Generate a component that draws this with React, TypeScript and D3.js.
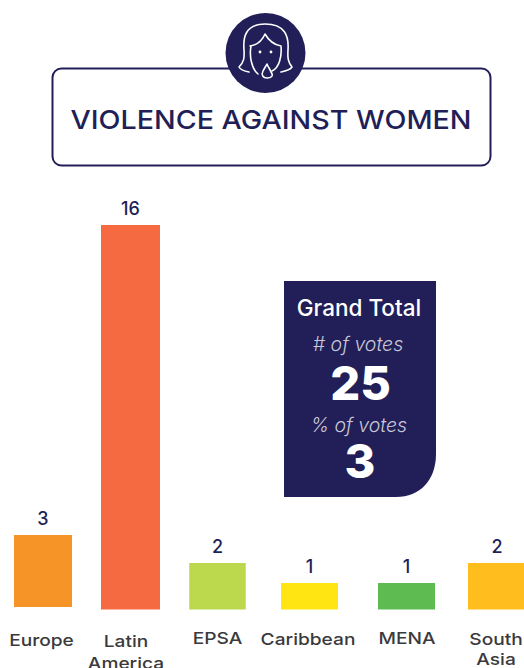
import React from "react";
import * as d3 from "d3";

const categories = ["Europe", "Latin America", "EPSA", "Caribbean", "MENA", "South Asia"];
const votes = [3, 16, 2, 1, 1, 2];
const colors = ["#F79427", "#F56A41", "#BCD84C", "#FFE512", "#5DBB52", "#FFBD1E"];
const title = "VIOLENCE AGAINST WOMEN";
const panelTitle = "Grand Total";
const votesLabel = "# of votes";
const totalVotes = "25";
const percentLabel = "% of votes";
const totalPercent = "3";

const navy = "#221F58";
const font = "Inter, 'Open Sans', sans-serif";
const W = 524, H = 668;

// bar centres sit on an irregular band in the source
const xCentre = d3.scaleOrdinal<string, number>().domain(categories).range([43, 130.5, 217.5, 309.5, 406.5, 497]);
const labelX = d3.scaleOrdinal<string, number>().domain(categories).range([41.5, 126, 217.5, 308, 407, 496]);
const labelY = d3.scaleOrdinal<string, number>().domain(categories).range([646, 647, 644, 645, 644, 645]);
const lineGap = d3.scaleOrdinal<string, number>().domain(categories).range([0, 21.5, 0, 0, 0, 19.5]);
const baseY = d3.scaleOrdinal<string, number>().domain(categories).range([607, 609.5, 609.5, 609.5, 609.5, 609.5]);
const barWidth = d3.scaleOrdinal<string, number>().domain(categories).range([58, 59, 56.5, 57, 57, 58]);
const heightScale = d3.scaleLinear().domain([0, 1, 2, 3, 16]).range([0, 26.5, 46.5, 72, 384.5]);

const panelPath = (() => {
  const p = d3.path();
  p.moveTo(284, 281);
  p.lineTo(436, 281);
  p.lineTo(436, 454);
  p.bezierCurveTo(436, 480, 420, 497, 396, 497);
  p.lineTo(284, 497);
  p.closePath();
  return p.toString();
})();

const wrap = (name: string) => name.split(" ");

export default function App() {
  return (
    <svg
      width={W}
      height={H}
      viewBox={`0 0 ${W} ${H}`}
      style={{ position: "absolute", left: 0, top: 0, background: "#fff", fontFamily: font }}
    >
      <rect x={52.5} y={68.5} width={438} height={97} rx={9} fill="#fff" stroke={navy} strokeWidth={2} />
      <text x={271} y={129} textAnchor="middle" fontSize={26} fontWeight={500} fill={navy} textLength={401} lengthAdjust="spacingAndGlyphs">
        {title}
      </text>

      {/* face icon */}
      <circle cx={265.5} cy={53} r={40} fill={navy} />
      <g fill="none" stroke="#fff" strokeWidth={1.6} strokeLinecap="round" strokeLinejoin="round">
        <path d="M249 72 C 243 71 240 69 239 67 C 244 62 244.5 58 244 50 C 243 38 245 24 265 24 C 285 24 289 36 288 50 C 287.5 58 288 62 292 67 C 290 70 286 71 281 72" />
        <path d="M250 46 C 257 45 262 41 265 34 C 269 41 275 45 281 46 C 282 57 279 68 272 71 M251 46 C 249 57 252 69 258 74" />
        <path d="M271 72 C 274 76 271 78 267 78 C 263 78 261 75 263 71 C 264 69 266 66 267 64 C 268 67 270 69 271 72 Z" />
      </g>
      <circle cx={260} cy={52} r={1.4} fill="#fff" />
      <circle cx={271} cy={52} r={1.4} fill="#fff" />

      {categories.map((c, i) => {
        const h = heightScale(votes[i]);
        const top = baseY(c) - h;
        const w = barWidth(c);
        const lines = wrap(c);
        return (
          <g key={c}>
            <rect x={xCentre(c) - w / 2} y={top} width={w} height={h} fill={colors[i]} />
            <text x={xCentre(c)} y={top - 10} textAnchor="middle" fontSize={18} fontWeight={500} fill={navy}>
              {votes[i]}
            </text>
            {lines.map((l, j) => (
              <text
                key={l}
                transform={`translate(${labelX(c)},${labelY(c) + j * lineGap(c)}) scale(1.16,1)`}
                textAnchor="middle"
                fontSize={16.5}
                fontWeight={500}
                fill="#3A3A3C"
              >
                {l}
              </text>
            ))}
          </g>
        );
      })}

      <path d={panelPath} fill={navy} />
      <g textAnchor="middle" fill="#fff">
        <text x={359} y={316} fontSize={22.5} fontWeight={500}>{panelTitle}</text>
        <text x={358} y={351} fontSize={19.5} fontWeight={300} fontStyle="italic" fill="#C9C8D8">{votesLabel}</text>
        <text x={360.5} y={400} fontSize={47} fontWeight={800}>{totalVotes}</text>
        <text x={359} y={432} fontSize={19.5} fontWeight={300} fontStyle="italic" fill="#C9C8D8">{percentLabel}</text>
        <text x={360} y={478} fontSize={47} fontWeight={800}>{totalPercent}</text>
      </g>
    </svg>
  );
}
